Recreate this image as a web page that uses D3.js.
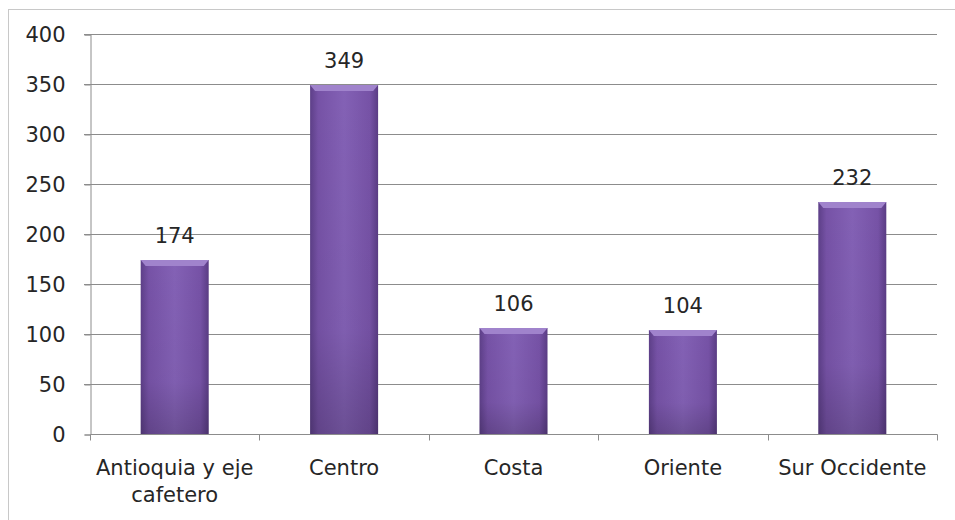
<!DOCTYPE html>
<html><head><meta charset="utf-8">
<script src="https://cdn.jsdelivr.net/npm/d3@7"></script>
<style>body{margin:0;background:#fff}svg{display:block}</style>
</head><body><svg id="c" width="955" height="520"></svg>
<script>
const categories = [["Antioquia y eje","cafetero"],["Centro"],["Costa"],["Oriente"],["Sur Occidente"]];
const values = [174, 349, 106, 104, 232];
const yTicks = [0,50,100,150,200,250,300,350,400];

const svg = d3.select("#c");
const font = "'DejaVu Sans', sans-serif";
const fs = 21;
const m = {left:90, right:937, top:34, bottom:434};

const x = d3.scaleBand().domain(d3.range(values.length)).range([m.left, m.right]).paddingInner(0).paddingOuter(0);
const y = d3.scaleLinear().domain([0,400]).range([m.bottom, m.top]);

// outer frame
svg.append("rect").attr("x",8.5).attr("y",9.5).attr("width",960).attr("height",530)
  .attr("fill","none").attr("stroke","#c8c8c8");

const defs = svg.append("defs");
const g1 = defs.append("linearGradient").attr("id","bh").attr("x1","0").attr("x2","1").attr("y1","0").attr("y2","0");
g1.append("stop").attr("offset","0").attr("stop-color","#5d3f88");
g1.append("stop").attr("offset","0.12").attr("stop-color","#7652a6");
g1.append("stop").attr("offset","0.5").attr("stop-color","#8361b5");
g1.append("stop").attr("offset","0.88").attr("stop-color","#7652a6");
g1.append("stop").attr("offset","1").attr("stop-color","#5a3c84");
const g2 = defs.append("linearGradient").attr("id","bv").attr("x1","0").attr("x2","0").attr("y1","0").attr("y2","1");
g2.append("stop").attr("offset","0").attr("stop-color","#000").attr("stop-opacity","0");
g2.append("stop").attr("offset","0.7").attr("stop-color","#000").attr("stop-opacity","0.03");
g2.append("stop").attr("offset","1").attr("stop-color","#000").attr("stop-opacity","0.18");

// gridlines
svg.append("g").selectAll("line").data(yTicks.filter(d=>d>0)).join("line")
  .attr("x1",m.left-6).attr("x2",m.right).attr("y1",d=>Math.round(y(d))+0.5).attr("y2",d=>Math.round(y(d))+0.5)
  .attr("stroke","#8c8c8c").attr("stroke-width",1);

// y axis
const ya = svg.append("g").attr("transform",`translate(${m.left+0.5},0.5)`)
  .call(d3.axisLeft(y).tickValues(yTicks).tickSize(6).tickPadding(19));
ya.select(".domain").attr("stroke","#8c8c8c");
ya.selectAll(".tick line").attr("stroke","#8c8c8c");
ya.selectAll(".tick text").attr("font-family",font).attr("font-size",fs).attr("fill","#262626");

// x axis
const xa = svg.append("g").attr("transform",`translate(0.5,${m.bottom+0.5})`);
xa.append("line").attr("x1",m.left).attr("x2",m.right).attr("stroke","#8c8c8c");
xa.selectAll("line.t").data(d3.range(values.length+1)).join("line").attr("class","t")
  .attr("x1",i=>Math.round(m.left + i*x.bandwidth())).attr("x2",i=>Math.round(m.left + i*x.bandwidth()))
  .attr("y1",0).attr("y2",6).attr("stroke","#8c8c8c");

// bars
const bw = 68;
const bars = svg.append("g").selectAll("g").data(values).join("g");
bars.append("rect").attr("x",(d,i)=>x(i)+x.bandwidth()/2-bw/2).attr("y",d=>y(d)).attr("width",bw).attr("height",d=>y(0)-y(d))
  .attr("fill","url(#bh)");
bars.append("rect").attr("x",(d,i)=>x(i)+x.bandwidth()/2-bw/2).attr("y",d=>y(d)).attr("width",bw).attr("height",d=>y(0)-y(d))
  .attr("fill","url(#bv)");
// top bevel
bars.append("path").attr("d",(d,i)=>{
  const x0 = x(i)+x.bandwidth()/2-bw/2, y0=y(d);
  return `M${x0},${y0}L${x0+bw},${y0}L${x0+bw-5},${y0+6}L${x0+5},${y0+6}Z`;
}).attr("fill","#a083cc");

// value labels
svg.append("g").selectAll("text").data(values).join("text")
  .attr("x",(d,i)=>x(i)+x.bandwidth()/2).attr("y",d=>y(d)-17)
  .attr("text-anchor","middle").attr("font-family",font).attr("font-size",fs).attr("fill","#262626").text(d=>d);

// category labels
svg.append("g").selectAll("text").data(categories).join("text")
  .attr("x",(d,i)=>x(i)+x.bandwidth()/2).attr("y",475)
  .attr("text-anchor","middle").attr("font-family",font).attr("font-size",fs).attr("fill","#262626")
  .each(function(d){
    const t = d3.select(this);
    d.forEach((s,j)=>t.append("tspan").attr("x",t.attr("x")).attr("dy",j===0?0:27).text(s));
  });
</script></body></html>
